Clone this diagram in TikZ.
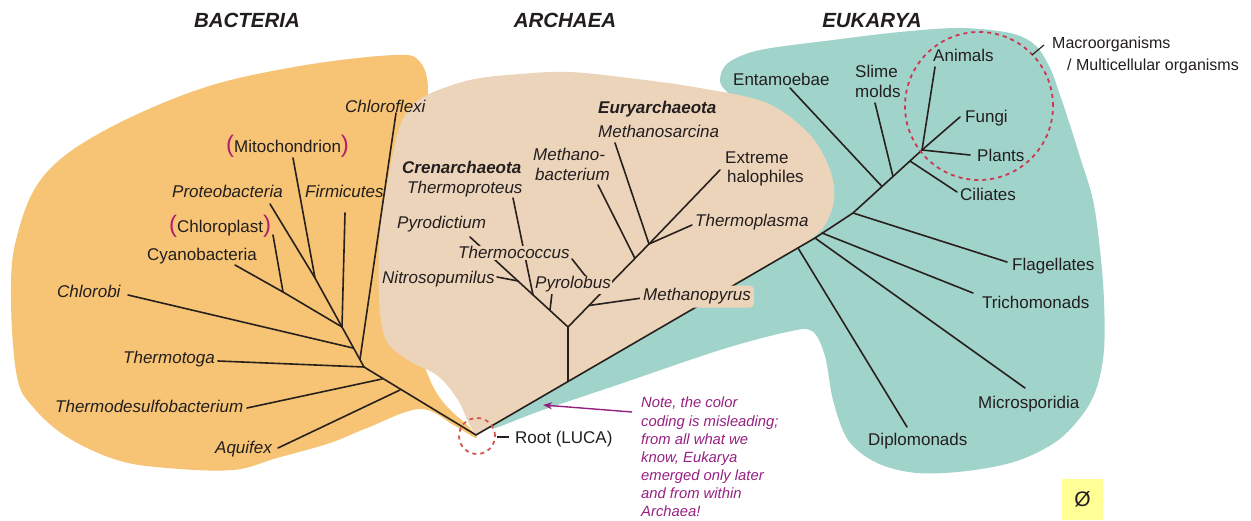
\documentclass[tikz,border=0pt]{standalone}
\usepackage{fontspec}
\setmainfont{Liberation Sans}
\usetikzlibrary{arrows.meta}
\definecolor{bactc}{RGB}{246,196,116}
\definecolor{archc}{RGB}{236,212,187}
\definecolor{eukc}{RGB}{160,212,203}
\definecolor{linec}{RGB}{40,32,28}
\definecolor{txtc}{RGB}{35,30,30}
\definecolor{parc}{RGB}{180,30,110}
\definecolor{notec}{RGB}{150,32,130}
\definecolor{dashc}{RGB}{205,55,80}
\definecolor{rootc}{RGB}{215,85,75}
\definecolor{yelc}{RGB}{255,255,150}
\newcommand\parenfont{\color{parc}\fontsize{24}{24}\selectfont}
\begin{document}
\begin{tikzpicture}[x=1pt,y=-1pt,
  br/.style={line width=1.6pt, draw=linec, line cap=round, line join=round},
  lab/.style={font=\fontsize{17}{20}\selectfont, text=txtc, inner sep=0pt, anchor=base west},
  ilab/.style={lab, font=\fontsize{17}{20}\selectfont\itshape},
  blab/.style={lab, font=\fontsize{17}{20}\selectfont\bfseries\itshape},
  ttl/.style={font=\fontsize{20.5}{24}\selectfont\bfseries\itshape, text=txtc, inner sep=0pt, anchor=base},
  covered/.style={fill=archc, inner sep=1pt},
  dcircle/.style={draw=dashc, line width=1.8pt, dash pattern=on 4pt off 4pt},
]
\useasboundingbox (0,0) rectangle (1251,521);
\fill[white] (0,0) rectangle (1251,521);

% ---------- blobs ----------
\fill[bactc] plot[smooth cycle, tension=0.6] coordinates {
 (395,55) (420,62) (428,90) (420,130) (395,250) (430,380) (470,428) (476,438)
 (455,426) (420,409) (367,428) (330,443) (277,458) (233,470) (167,468) (117,460)
 (67,437) (33,407) (17,377) (11,300) (16,240) (42,178) (100,133) (200,89) (300,66)};
\fill[eukc] plot[smooth cycle, tension=0.55] coordinates {
 (495,428) (540,411) (620,384) (720,350) (787,332) (812,331) (825,356) (833,400)
 (848,440) (877,463) (917,473) (967,471) (1017,461) (1057,441) (1083,414) (1097,387)
 (1104,350) (1104,300) (1100,250) (1093,200) (1080,157) (1070,125) (1060,95)
 (1050,68) (1035,45) (1010,33) (960,28) (900,32) (833,40) (760,50) (728,63)
 (720,80) (728,93) (760,120) (780,200) (700,292) (560,381) (496,421)};
\fill[archc] plot[smooth, tension=0.55] coordinates {
 (800,247) (823,228) (834,200) (830,170) (810,135) (767,103) (700,88) (637,79)
 (570,72) (520,74) (470,80) (425,96) (405,115) (396,140) (388,180) (380,230)
 (379,300) (386,340) (408,360) (438,376) (458,400) (469,424) (476,435)} -- cycle;

% ---------- tree nodes ----------
\coordinate (R) at (476,435);
% bacteria
\coordinate (bA) at (400,390);
\coordinate (bTd) at (382,379);
\coordinate (bTt) at (364,367);
\coordinate (bCf) at (360,359);
\coordinate (bCb) at (353,348);
\coordinate (bE) at (342,327);
\coordinate (bC) at (283,292);
\coordinate (bP) at (315,278);
\coordinate (lAq) at (278,448);
\coordinate (lTd) at (247,408);
\coordinate (lTt) at (218,361);
\coordinate (lCf) at (396,113);
\coordinate (lCb) at (128,295);
\coordinate (lFi) at (345,213);
\coordinate (lCy) at (235,265);
\coordinate (lCp) at (273,235);
\coordinate (lPr) at (270,204);
\coordinate (lMi) at (293,158);
% archaea
\coordinate (aR) at (568,381.5);
\coordinate (aN) at (568,327);
\coordinate (lPd) at (470,237);
\coordinate (aNi) at (518,281);
\coordinate (aTp) at (533,295);
\coordinate (aPl) at (550,310);
\coordinate (lNi) at (497,277);
\coordinate (lTp) at (513,198);
\coordinate (lPl) at (552,293);
\coordinate (aX) at (649,244);
\coordinate (aMp) at (589,305.5);
\coordinate (aTc) at (600,294.5);
\coordinate (aMb) at (635,258.5);
\coordinate (lMp) at (642,298);
\coordinate (lTc) at (572,259);
\coordinate (lMb) at (598,185);
\coordinate (lMs) at (615,143);
\coordinate (lEh) at (720,170);
\coordinate (lTpl) at (692,225);
% eukarya
\coordinate (eD) at (798,248);
\coordinate (eM) at (815,238);
\coordinate (eT) at (822,233);
\coordinate (eF) at (853,213);
\coordinate (eE) at (882,186.5);
\coordinate (eS) at (893,176.5);
\coordinate (eC) at (910,161);
\coordinate (eX) at (922,150);
\coordinate (lDi) at (907,427);
\coordinate (lMc) at (1025,388);
\coordinate (lTr) at (973,293);
\coordinate (lFl) at (1007,262);
\coordinate (lEn) at (790,88);
\coordinate (lSl) at (875,103);
\coordinate (lAn) at (935,67);
\coordinate (lFu) at (960,117);
\coordinate (lPlt) at (970,155);
\coordinate (lCi) at (957,192);

% ---------- branches ----------
\draw[br] (R) -- (bTt) -- (bE);
\draw[br] (bA) -- (lAq);
\draw[br] (bTd) -- (lTd);
\draw[br] (bTt) -- (lTt);
\draw[br] (bCf) -- (lCf);
\draw[br] (bCb) -- (lCb);
\draw[br] (bE) -- (lFi);
\draw[br] (bE) -- (bC) -- (lCy);
\draw[br] (bC) -- (lCp);
\draw[br] (bE) -- (bP) -- (lPr);
\draw[br] (bP) -- (lMi);

\draw[br] (R) -- (eM) -- (eF) -- (eX);
\draw[br] (aR) -- (aN);
\draw[br] (aN) -- (lPd);
\draw[br] (aNi) -- (lNi);
\draw[br] (aTp) -- (lTp);
\draw[br] (aPl) -- (lPl);
\draw[br] (aN) -- (aX);
\draw[br] (aMp) -- (lMp);
\draw[br] (aTc) -- (lTc);
\draw[br] (aMb) -- (lMb);
\draw[br] (aX) -- (lMs);
\draw[br] (aX) -- (lEh);
\draw[br] (aX) -- (lTpl);

\draw[br] (eD) -- (lDi);
\draw[br] (eM) -- (lMc);
\draw[br] (eT) -- (lTr);
\draw[br] (eF) -- (lFl);
\draw[br] (eE) -- (lEn);
\draw[br] (eS) -- (lSl);
\draw[br] (eX) -- (lAn);
\draw[br] (eX) -- (lFu);
\draw[br] (eX) -- (lPlt);
\draw[br] (eC) -- (lCi);

% ---------- titles ----------
\node[ttl] (tB) at (247,28) {BACTERIA};
\node[ttl] (tA) at (565,28) {ARCHAEA};
\node[ttl] (tE) at (872,28) {EUKARYA};

% ---------- bacteria labels ----------
\node[ilab] (nCf) at (345,113) {Chloroflexi};
\node[lab] (nMi) at (226,153) {{\parenfont(}Mitochondrion{\parenfont)}};
\node[ilab] (nPr) at (172,198) {Proteobacteria};
\node[ilab] (nFi) at (305,198) {Firmicutes};
\node[lab] (nCp) at (169,233) {{\parenfont(}Chloroplast{\parenfont)}};
\node[lab] (nCy) at (147,261) {Cyanobacteria};
\node[ilab] (nCb) at (57,298) {Chlorobi};
\node[ilab] (nTt) at (123,364) {Thermotoga};
\node[ilab] (nTd) at (55,413) {Thermodesulfobacterium};
\node[ilab] (nAq) at (215,453) {Aquifex};

% ---------- archaea labels ----------
\node[blab] (nEu) at (598,114) {Euryarchaeota};
\node[ilab] (nMs) at (598,138) {Methanosarcina};
\node[ilab] (nMb1) at (533,161) {Methano-};
\node[ilab] (nMb2) at (535,181) {bacterium};
\node[blab] (nCr) at (402,174) {Crenarchaeota};
\node[ilab] (nTp) at (407,194) {Thermoproteus};
\node[ilab] (nPd) at (397,229) {Pyrodictium};
\node[ilab, covered] (nTc) at (457,259) {Thermococcus};
\node[ilab] (nNi) at (382,284) {Nitrosopumilus};
\node[ilab, covered] (nPl) at (534,289) {Pyrolobus};
\node[ilab, fill=archc, inner sep=3pt, rounded corners=4pt] (nMp) at (640,301) {Methanopyrus};
\node[lab] (nEh1) at (725,164) {Extreme};
\node[lab] (nEh2) at (727,183) {halophiles};
\node[ilab] (nTpl) at (695,227) {Thermoplasma};

% ---------- eukarya labels ----------
\node[lab] (nEn) at (733,86) {Entamoebae};
\node[lab] (nSl1) at (855,78) {Slime};
\node[lab] (nSl2) at (855,98) {molds};
\node[lab] (nAn) at (933,62) {Animals};
\node[lab] (nFu) at (965,123) {Fungi};
\node[lab] (nPlt) at (977,162) {Plants};
\node[lab] (nCi) at (960,201) {Ciliates};
\node[lab] (nFl) at (1012,271) {Flagellates};
\node[lab] (nTr) at (982,309) {Trichomonads};
\node[lab] (nMc) at (978,408) {Microsporidia};
\node[lab] (nDi) at (868,446) {Diplomonads};

% ---------- macroorganisms ----------
\node[dcircle, circle, minimum size=148pt, inner sep=0pt] (mac) at (979,106) {};
\node[lab, font=\fontsize{16}{19}\selectfont] (nMa1) at (1052,49) {Macroorganisms};
\node[lab, font=\fontsize{16}{19}\selectfont] (nMa2) at (1067,71) {/ Multicellular organisms};
\coordinate (tk1) at (1032,55);
\coordinate (tk2) at (1044,45);
\draw[line width=1.2pt, draw=linec] (tk1) -- (tk2);

% ---------- root ----------
\node[draw=rootc, line width=1.8pt, dash pattern=on 4pt off 4pt, circle, minimum size=36pt, inner sep=0pt] (rc) at (477,436) {};
\node[lab] (nRoot) at (515,443) {Root (LUCA)};
\coordinate (rl1) at (497,437);
\coordinate (rl2) at (509,437);
\draw[line width=1.3pt, draw=linec] (rl1) -- (rl2);

% ---------- note ----------
\node[inner sep=0pt, anchor=north west, align=left, text=notec,
      font=\fontsize{14.8}{18.1}\selectfont\itshape] (note) at (641,397)
 {Note, the color\\coding is misleading;\\from all what we\\know, Eukarya\\emerged only later\\and from within\\Archaea!};
\coordinate (ar1) at (632,412);
\coordinate (ar2) at (543,405);
\draw[-{Stealth[length=9pt,width=7pt]}, draw=notec, fill=notec, line width=1.4pt] (ar1) -- (ar2);

% ---------- symbol ----------
\node[fill=yelc, minimum width=41pt, minimum height=41pt, inner sep=0pt,
      font=\fontsize{21}{21}\selectfont, text=txtc] (sym) at (1082.5,499.5) {Ø};
\end{tikzpicture}
\end{document}
